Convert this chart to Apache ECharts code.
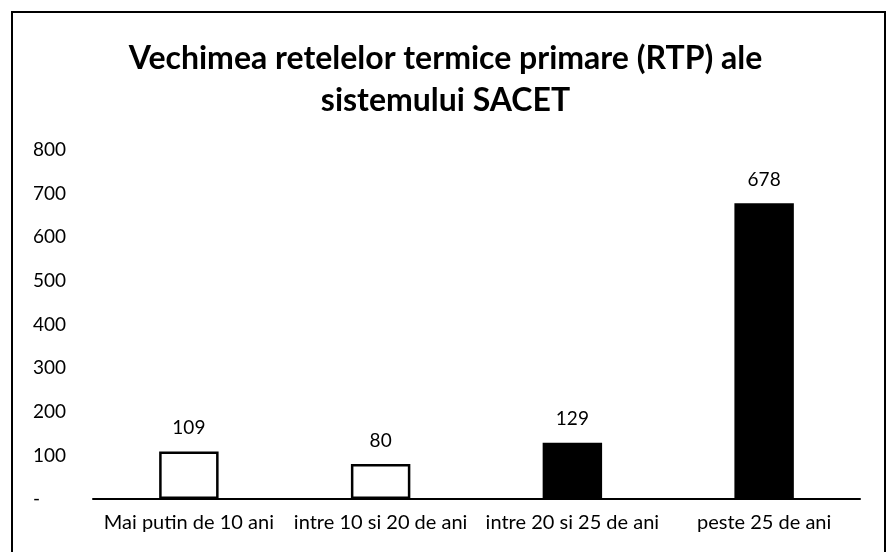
<!DOCTYPE html>
<html>
<head>
<meta charset="utf-8">
<script src="https://cdn.jsdelivr.net/npm/echarts@6/dist/echarts.min.js"></script>
<style>
  html, body { margin: 0; padding: 0; background: #fff; }
  #frame { position: absolute; left: 11px; top: 11px; width: 875px; height: 560px; border: 2px solid #000; box-sizing: border-box; }
  #main { position: absolute; left: 0; top: 0; width: 891px; height: 552px; }
</style>
</head>
<body>
<div id="frame"></div>
<div id="main"></div>
<script>
// date grafic
var categorii = ['Mai putin de 10 ani', 'intre 10 si 20 de ani', 'intre 20 si 25 de ani', 'peste 25 de ani'];
var valori = [109, 80, 129, 678];
var umplut = [false, false, true, true]; // bare negre sau goale
var titlu = 'Vechimea retelelor termice primare (RTP) ale\nsistemului SACET';

var chart = echarts.init(document.getElementById('main'));
var font = 'Lato, "Open Sans", sans-serif';

var date = valori.map(function (v, i) {
  return {
    value: v,
    itemStyle: {
      color: umplut[i] ? '#000' : '#fff',
      borderColor: '#000',
      borderWidth: umplut[i] ? 0 : 2.5
    }
  };
});

chart.setOption({
  animation: false,
  title: {
    text: titlu,
    left: 'center',
    top: 33,
    textStyle: { fontFamily: font, fontWeight: 'bold', fontSize: 32, lineHeight: 42, color: '#000' }
  },
  grid: { left: 93, right: 31, top: 150, bottom: 53, containLabel: false },
  xAxis: {
    type: 'category',
    data: categorii,
    axisLine: { lineStyle: { color: '#000', width: 2 } },
    axisTick: { show: false },
    axisLabel: { color: '#000', fontFamily: font, fontSize: 20, margin: 14, interval: 0 }
  },
  yAxis: {
    type: 'value',
    min: 0,
    max: 800,
    interval: 100,
    splitLine: { show: false },
    axisLine: { show: false },
    axisTick: { show: false },
    axisLabel: {
      color: '#000', fontFamily: font, fontSize: 19, align: 'left', margin: 60,
      formatter: function (v) { return v === 0 ? '-' : String(v); }
    }
  },
  series: [{
    type: 'bar',
    data: date,
    barWidth: '31%',
    label: { show: true, position: 'top', distance: 14, color: '#000', fontFamily: font, fontSize: 19 }
  }]
});
</script>
</body>
</html>
